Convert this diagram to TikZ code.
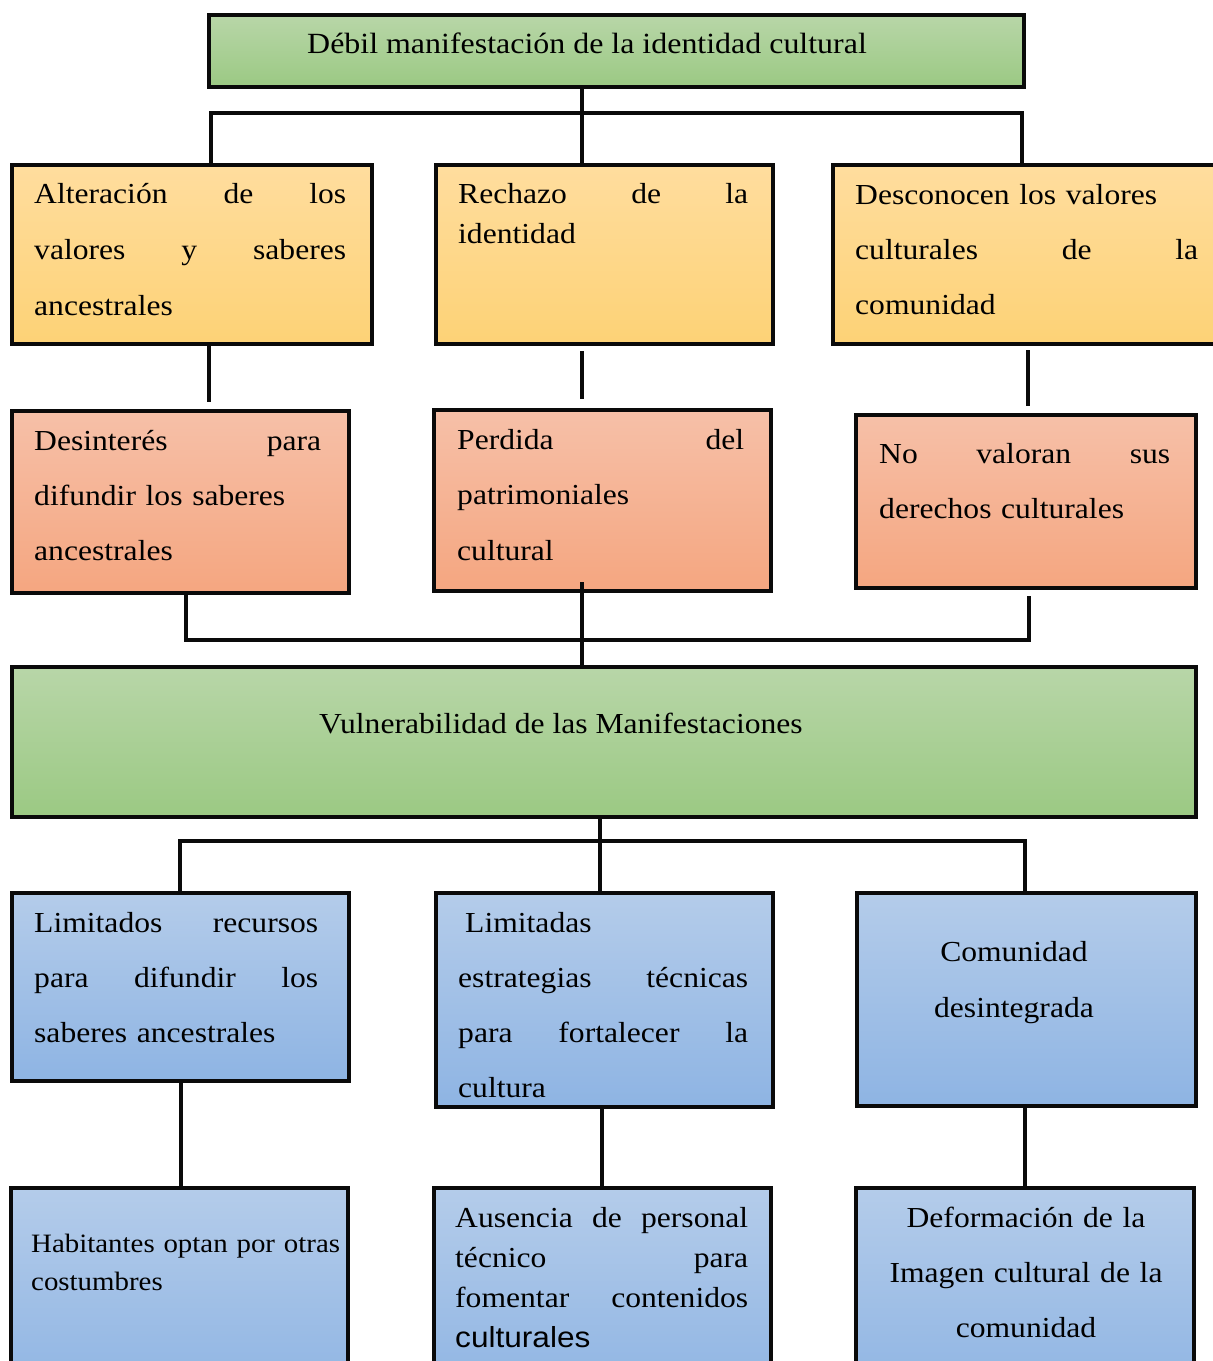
\documentclass[tikz,border=0pt]{standalone}
\usepackage{fontspec}
\setmainfont{Liberation Serif}[FakeStretch=1.09]
\setsansfont{Liberation Sans}[FakeStretch=1.09]
\usetikzlibrary{calc}

\definecolor{greenTop}{RGB}{184,214,168}
\definecolor{greenBot}{RGB}{155,201,131}
\definecolor{orangeTop}{RGB}{255,221,158}
\definecolor{orangeBot}{RGB}{253,210,118}
\definecolor{salmonTop}{RGB}{246,192,168}
\definecolor{salmonBot}{RGB}{245,166,128}
\definecolor{blueTop}{RGB}{180,204,234}
\definecolor{blueBot}{RGB}{142,180,227}
\definecolor{ink}{RGB}{10,10,10}

\tikzset{
  panel/.style={rectangle, draw=ink, line width=4, inner sep=0},
  greenpanel/.style={panel, top color=greenTop, bottom color=greenBot},
  orangepanel/.style={panel, top color=orangeTop, bottom color=orangeBot},
  salmonpanel/.style={panel, top color=salmonTop, bottom color=salmonBot},
  bluepanel/.style={panel, top color=blueTop, bottom color=blueBot},
  link/.style={draw=ink, line width=4},
  body/.style={anchor=base west, inner sep=0, align=left, text width=#1},
  centred/.style={anchor=base, inner sep=0, align=center, text width=#1},
}

\begin{document}
\begin{tikzpicture}[x=1pt, y=-1pt]
\useasboundingbox (0,0) rectangle (1213,1361);
\clip (0,0) rectangle (1213,1361);

% ---- boxes ----
\node[greenpanel, minimum width=815, minimum height=72] (top) at (616.5,51) {};

\node[orangepanel, minimum width=360, minimum height=179] (A) at (192,254.5) {};
\node[orangepanel, minimum width=337, minimum height=179] (B) at (604.5,254.5) {};
\node[orangepanel, minimum width=397, minimum height=179] (C) at (1031.5,254.5) {};

\node[salmonpanel, minimum width=337, minimum height=182] (D) at (180.5,502) {};
\node[salmonpanel, minimum width=337, minimum height=181] (E) at (602.5,500.5) {};
\node[salmonpanel, minimum width=340, minimum height=173] (F) at (1026,501.5) {};

\node[greenpanel, minimum width=1184, minimum height=150] (big) at (604,742) {};

\node[bluepanel, minimum width=337, minimum height=188] (G) at (180.5,987) {};
\node[bluepanel, minimum width=337, minimum height=214] (H) at (604.5,1000) {};
\node[bluepanel, minimum width=339, minimum height=213] (I) at (1026.5,999.5) {};

\node[bluepanel, minimum width=337, minimum height=212] (J) at (179.5,1294) {};
\node[bluepanel, minimum width=337, minimum height=212] (K) at (602.5,1294) {};
\node[bluepanel, minimum width=338, minimum height=212] (L) at (1025,1294) {};

% ---- texts ----
\node[anchor=base west, inner sep=0, font=\fontsize{29.3}{56}\selectfont] (tTop) at (307,53)
  {Débil manifestación de la identidad cultural};

\node[body=312, font=\fontsize{29}{56}\selectfont] (tA) at (34,203)
  {Alteración\hfill de\hfill los\\ valores\hfill y\hfill saberes\\ ancestrales};
\node[body=290, font=\fontsize{29}{40}\selectfont] (tB) at (458,203)
  {Rechazo\hfill de\hfill la\\ identidad};
\node[body=343, font=\fontsize{29}{55}\selectfont] (tC) at (855,204)
  {Desconocen los valores\\ culturales\hfill de\hfill la\\ comunidad};

\node[body=287, font=\fontsize{29}{55}\selectfont] (tD) at (34,450)
  {Desinterés\hfill para\\ difundir los saberes\\ ancestrales};
\node[body=287, font=\fontsize{29}{55.5}\selectfont] (tE) at (457,449)
  {Perdida\hfill del\\ patrimoniales\\ cultural};
\node[body=291, font=\fontsize{29}{55}\selectfont] (tF) at (879,463)
  {No\hfill valoran\hfill sus\\ derechos culturales};

\node[anchor=base west, inner sep=0, font=\fontsize{29}{56}\selectfont] (tBig) at (319,733)
  {Vulnerabilidad de las Manifestaciones};

\node[body=284, font=\fontsize{29}{55}\selectfont] (tG) at (34,932)
  {Limitados\hfill recursos\\ para\hfill difundir\hfill los\\ saberes ancestrales};
\node[body=290, font=\fontsize{29}{55}\selectfont] (tH) at (458,932)
  {\hspace*{7pt}Limitadas\\ estrategias\hfill técnicas\\ para\hfill fortalecer\hfill la\\ cultura};
\node[centred=320, font=\fontsize{29}{56}\selectfont] (tI) at (1014,961)
  {Comunidad\\ desintegrada};

\node[body=330, font=\fontsize{26.5}{38}\selectfont] (tJ) at (31,1252)
  {Habitantes optan por otras\\ costumbres};
\node[body=293, font=\fontsize{29}{40}\selectfont] (tK) at (455,1227)
  {Ausencia\hfill de\hfill personal\\ técnico\hfill para\\ fomentar\hfill contenidos\\ {\sffamily culturales}};
\node[centred=330, font=\fontsize{29}{55}\selectfont] (tL) at (1026,1227)
  {Deformación de la\\ Imagen cultural de la\\ comunidad};

% ---- connector positions ----
\coordinate (hubTop) at (582,113);
\coordinate (barL1) at (211,113);
\coordinate (barR1) at (1022,113);
\coordinate (dropA) at (209,0);
\coordinate (dropC) at (1028,0);
\coordinate (joinL) at (186,640);
\coordinate (joinR) at (1029,640);
\coordinate (hubBig) at (600,841);
\coordinate (barL2) at (180,841);
\coordinate (barR2) at (1025,841);
\coordinate (dropG) at (181,0);
\coordinate (dropH) at (602,0);
\coordinate (dropI) at (1025,0);

% upper tree
\draw[link] (hubTop |- top.south) -- (hubTop |- B.north);
\draw[link] (barL1 |- A.north) -- (barL1) -- (barR1) -- (barR1 |- C.north);

% orange to salmon
\draw[link, shorten >=7] (dropA |- A.south) -- (dropA |- D.north);
\draw[link, shorten <=5, shorten >=9] (hubTop |- B.south) -- (hubTop |- E.north);
\draw[link, shorten <=4, shorten >=7] (dropC |- C.south) -- (dropC |- F.north);

% salmon row into the central box
\draw[link, shorten >=6] (joinL |- D.south) -- (joinL) -- (joinR) -- (joinR |- F.south);
\draw[link] ($(hubTop |- E.south)+(0,-11)$) -- (hubTop |- big.north);

% lower tree
\draw[link] (hubBig |- big.south) -- (hubBig |- H.north);
\draw[link] (barL2 |- G.north) -- (barL2) -- (barR2) -- (barR2 |- I.north);

% blue rows
\draw[link] (dropG |- G.south) -- (dropG |- J.north);
\draw[link] (dropH |- H.south) -- (dropH |- K.north);
\draw[link] (dropI |- I.south) -- (dropI |- L.north);
\end{tikzpicture}
\end{document}
